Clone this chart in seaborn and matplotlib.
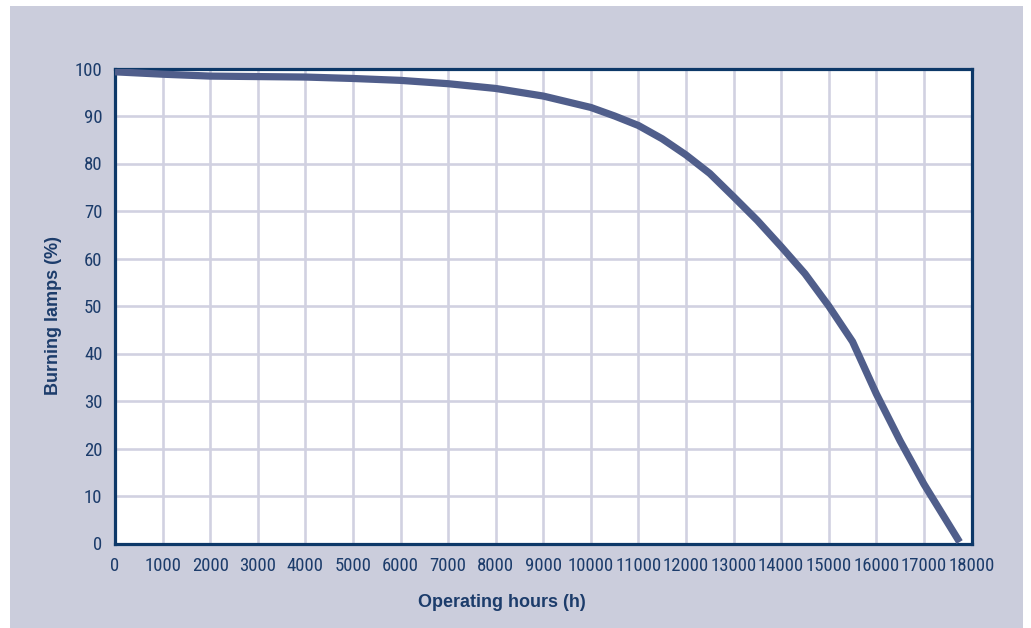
import matplotlib
matplotlib.use("Agg")
import matplotlib.pyplot as plt
import seaborn as sns
import pandas as pd
from matplotlib.patches import Rectangle

# values
hours = [0, 1000, 2000, 3000, 4000, 5000, 6000, 7000, 8000, 9000, 10000,
         10500, 11000, 11500, 12000, 12500, 13000, 13500, 14000, 14500,
         15000, 15500, 16000, 16500, 17000, 17750]
burning = [99.3, 98.8, 98.4, 98.3, 98.2, 97.9, 97.5, 96.8, 95.8, 94.2, 91.8,
           90.0, 88.0, 85.2, 81.8, 77.9, 73.0, 68.0, 62.5, 56.8,
           50.0, 42.5, 31.5, 21.6, 12.5, 0.3]

x_ticks = list(range(0, 18001, 1000))
y_ticks = list(range(0, 101, 10))

navy = "#0d3868"
text_col = "#1c3c6b"
line_col = "#505e8b"
grid_col = "#d1d1e1"
panel_col = "#cbcddc"

df = pd.DataFrame({"hours": hours, "burning": burning})

sns.set_style("white")
narrow = ["Liberation Sans Narrow", "Arial Narrow", "Roboto Condensed",
          "Archivo Narrow", "PT Sans Narrow", "Liberation Sans", "DejaVu Sans"]
plt.rcParams["font.family"] = narrow

fig = plt.figure(figsize=(10.31, 6.28), dpi=100)
fig.patch.set_facecolor("white")
fig.patches.append(Rectangle((10 / 1031, 0), 1013 / 1031, 622 / 628,
                             transform=fig.transFigure, facecolor=panel_col,
                             edgecolor="none", zorder=-10))

ax = fig.add_axes([115 / 1031, 1 - 543.5 / 628, 856.5 / 1031, 475 / 628])
ax.set_zorder(1)
ax.set_facecolor("white")

sns.lineplot(data=df, x="hours", y="burning", ax=ax, color=line_col,
             linewidth=5.2, zorder=5)
ax.lines[0].set_solid_capstyle("butt")
ax.lines[0].set_solid_joinstyle("round")

ax.set_xlim(0, 18000)
ax.set_ylim(0, 100)
ax.set_xticks(x_ticks)
ax.set_yticks(y_ticks)
ax.set_xticklabels([str(v) for v in x_ticks])
ax.set_yticklabels([str(v) for v in y_ticks])
ax.grid(True, color=grid_col, linewidth=1.9)
ax.set_axisbelow(True)

for s in ax.spines.values():
    s.set_color(navy)
    s.set_linewidth(2.3)
    s.set_zorder(4)

ax.tick_params(axis="both", length=0, labelsize=13.5, labelcolor=text_col)
ax.tick_params(axis="x", pad=10)
ax.tick_params(axis="y", pad=9)

ax.set_xlabel("Operating hours (h)", fontsize=13, fontweight="bold",
              color=text_col, family=["Liberation Sans", "DejaVu Sans"])
ax.xaxis.set_label_coords(0.452, -0.106)
ax.set_ylabel("Burning lamps (%)", fontsize=13, fontweight="bold",
              color=text_col, family=["Liberation Sans", "DejaVu Sans"])
ax.yaxis.set_label_coords(-0.062, 0.479)

fig.savefig("out.png", dpi=100, facecolor=fig.get_facecolor())
